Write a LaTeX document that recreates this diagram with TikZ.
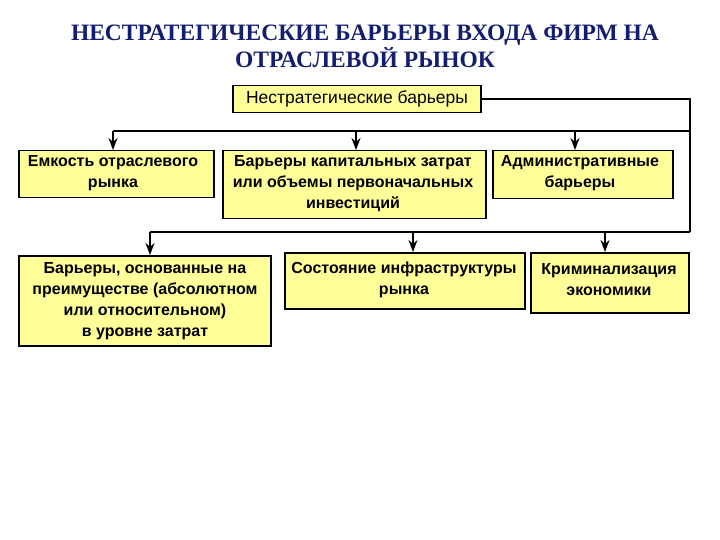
\documentclass[tikz,border=0pt]{standalone}
\usepackage{fontspec}
\setmainfont{Liberation Serif}
\newfontfamily\boxfont{Liberation Sans}
\usetikzlibrary{arrows.meta}
\definecolor{boxyellow}{RGB}{255,255,153}
\definecolor{titleblue}{RGB}{20,30,110}
\tikzset{
  bx/.style={draw=black,line width=1.5pt,fill=boxyellow,inner sep=0pt,anchor=north west},
  tx/.style={align=center,font=\boxfont\bfseries\fontsize{16}{21}\selectfont,anchor=north,inner sep=0pt},
  conn/.style={line width=1.5pt,-{Stealth[length=12pt,width=9pt]}},
  plain/.style={line width=1.5pt}
}
\begin{document}
\begin{tikzpicture}[x=1pt,y=-1pt]
\useasboundingbox (0,0) rectangle (720,540);
\node[font=\bfseries\fontsize{23.5}{27}\selectfont,text=titleblue,align=center] (title) at (365,46) {НЕСТРАТЕГИЧЕСКИЕ БАРЬЕРЫ ВХОДА ФИРМ НА\\ОТРАСЛЕВОЙ РЫНОК};
\node[bx,minimum width=248pt,minimum height=27pt,anchor=center] (top) at (357,99) {};
\node[font=\boxfont\fontsize{17.5}{20}\selectfont,inner sep=0pt] (toptx) at (top.center) {Нестратегические барьеры};
\node[bx,minimum width=195pt,minimum height=47pt] (b1) at (18,150) {};
\node[tx] (t1) at (113,155) {Емкость отраслевого\\рынка};
\node[bx,minimum width=263pt,minimum height=68pt] (b2) at (222,150) {};
\node[tx] (t2) at (353,155) {Барьеры капитальных затрат\\или объемы первоначальных\\инвестиций};
\node[bx,minimum width=180pt,minimum height=48pt] (b3) at (492,150) {};
\node[tx] (t3) at (580,155) {Административные\\барьеры};
\node[bx,minimum width=252pt,minimum height=90pt] (b4) at (18,255) {};
\node[tx] (t4) at (145,262) {Барьеры, основанные на\\преимуществе (абсолютном\\или относительном)\\в уровне затрат};
\node[bx,minimum width=240pt,minimum height=56pt] (b5) at (284,252) {};
\node[tx] (t5) at (404,262) {Состояние инфраструктуры\\рынка};
\node[bx,minimum width=158pt,minimum height=60pt] (b6) at (530,252) {};
\node[tx] (t6) at (609,263) {Криминализация\\экономики};
\coordinate (c1) at (690,131);
\coordinate (c2) at (690,232);
\draw[plain] (top.east) -| (c2);
\draw[plain] (c1) -- (113,131);
\draw[plain] (c2) -- (150,232);
\draw[conn] (113,131) -- (b1.north -| 113,0);
\draw[conn] (356,131) -- (b2.north -| 356,0);
\draw[conn] (575,131) -- (b3.north -| 575,0);
\draw[conn] (150,232) -- (b4.north -| 150,0);
\draw[conn] (413,232) -- (b5.north -| 413,0);
\draw[conn] (605,232) -- (b6.north -| 605,0);
\end{tikzpicture}
\end{document}
